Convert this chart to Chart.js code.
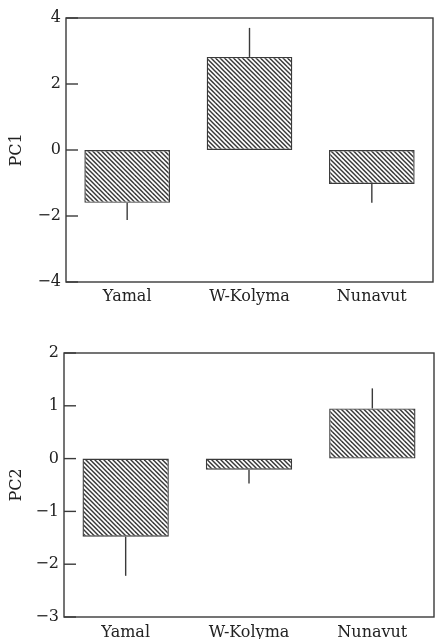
<!DOCTYPE html>
<html>
<head>
<meta charset="utf-8">
<script src="https://cdn.jsdelivr.net/npm/chart.js@4.4.0/dist/chart.umd.min.js"></script>
<style>
  html, body { margin: 0; padding: 0; background: #fff; }
  body { width: 435px; height: 639px; position: relative; overflow: hidden; }
  .box { position: absolute; left: 0; width: 435px; }
</style>
</head>
<body>
<div class="box" style="top:0;height:320px"><canvas id="pc1Chart" width="435" height="320"></canvas></div>
<div class="box" style="top:320px;height:319px"><canvas id="pc2Chart" width="435" height="319"></canvas></div>
<script>
    // Regiões
    const regioes = ['Yamal', 'W-Kolyma', 'Nunavut'];

    // PC1 médias e extremidade do erro
    const pc1Valores = [-1.6, 2.82, -1.03];
    const pc1Erro = [-2.12, 3.7, -1.6];
    const pc1Ticks = [-4, -2, 0, 2, 4];

    // PC2 médias e extremidade do erro
    const pc2Valores = [-1.48, -0.21, 0.95];
    const pc2Erro = [-2.22, -0.47, 1.33];
    const pc2Ticks = [-3, -2, -1, 0, 1, 2];

    const corLinha = '#3a3a3a';
    const corTexto = '#222';
    const fonteSerif = "'DejaVu Serif', 'Liberation Serif', serif";

    // Hachura diagonal (\\\)
    function criarHachura() {
        const c = document.createElement('canvas');
        c.width = 9; c.height = 9;
        const g = c.getContext('2d');
        g.fillStyle = '#fff';
        g.fillRect(0, 0, 9, 9);
        g.strokeStyle = corLinha;
        g.lineWidth = 1.5;
        const offs = [-9, -4.5, 0, 4.5, 9];
        offs.forEach(function(o) {
            g.beginPath();
            g.moveTo(o - 1, -1);
            g.lineTo(o + 10, 10);
            g.stroke();
        });
        return g.createPattern(c, 'repeat');
    }

    // Moldura, ticks internos e barras de erro
    const extras = {
        id: 'extras',
        afterDatasetsDraw(chart, args, opts) {
            const ctx = chart.ctx;
            const a = chart.chartArea;
            const y = chart.scales.y;
            const x = chart.scales.x;
            ctx.save();
            ctx.strokeStyle = corLinha;
            ctx.lineWidth = 1.4;
            // erros
            const meta = chart.getDatasetMeta(0);
            opts.erro.forEach(function(v, i) {
                const bar = meta.data[i];
                const px = x.getPixelForValue(i);
                ctx.beginPath();
                ctx.moveTo(px, bar.y);
                ctx.lineTo(px, y.getPixelForValue(v));
                ctx.stroke();
            });
            // ticks
            y.ticks.forEach(function(t) {
                const py = y.getPixelForValue(t.value);
                ctx.beginPath();
                ctx.moveTo(a.left, py);
                ctx.lineTo(a.left + 12, py);
                ctx.stroke();
            });
            // moldura
            ctx.strokeRect(a.left, a.top, a.right - a.left, a.bottom - a.top);
            ctx.restore();
        }
    };

    function montarGrafico(id, nome, valores, erro, ticks, area) {
        const ctx = document.getElementById(id).getContext('2d');
        return new Chart(ctx, {
            type: 'bar',
            data: {
                labels: regioes,
                datasets: [{
                    data: valores,
                    backgroundColor: criarHachura(),
                    borderColor: corLinha,
                    borderWidth: 1.4,
                    borderSkipped: false,
                    barPercentage: 0.7,
                    categoryPercentage: 1
                }]
            },
            options: {
                responsive: false,
                animation: false,
                layout: {
                    padding: { top: area.top, right: area.right, bottom: 0, left: 0 }
                },
                scales: {
                    x: {
                        grid: { display: false, drawTicks: false },
                        border: { display: false },
                        ticks: {
                            padding: area.xPad,
                            color: corTexto,
                            font: { family: fonteSerif, size: 16 }
                        },
                        afterFit: function(s) { s.height = area.xHeight; }
                    },
                    y: {
                        min: ticks[0],
                        max: ticks[ticks.length - 1],
                        afterBuildTicks: function(s) {
                            s.ticks = ticks.map(function(v) { return { value: v }; });
                        },
                        grid: { display: false, drawTicks: false },
                        border: { display: false },
                        ticks: {
                            padding: 5,
                            color: corTexto,
                            font: { family: fonteSerif, size: 16 },
                            callback: function(v) {
                                return v < 0 ? '\u2212' + Math.abs(v) : String(v);
                            }
                        },
                        title: {
                            display: true,
                            text: nome,
                            color: corTexto,
                            font: { family: fonteSerif, size: 16 },
                            padding: { top: 7, bottom: 0 }
                        },
                        afterFit: function(s) { s.width = area.left; }
                    }
                },
                plugins: {
                    legend: { display: false },
                    tooltip: { enabled: false },
                    extras: { erro: erro }
                }
            },
            plugins: [extras]
        });
    }

    montarGrafico('pc1Chart', 'PC1', pc1Valores, pc1Erro, pc1Ticks,
        { top: 18, right: 2, left: 66, xHeight: 38, xPad: 5 });
    montarGrafico('pc2Chart', 'PC2', pc2Valores, pc2Erro, pc2Ticks,
        { top: 33, right: 1, left: 64, xHeight: 22, xPad: 6 });
</script>
</body>
</html>
